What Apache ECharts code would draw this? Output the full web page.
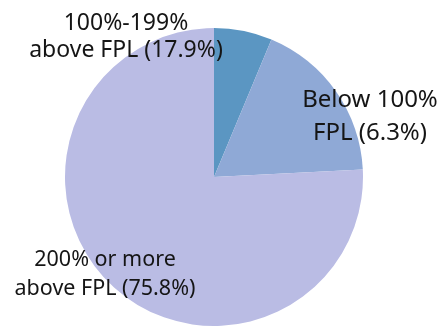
<!DOCTYPE html>
<html>
<head>
<meta charset="utf-8">
<script src="https://cdn.jsdelivr.net/npm/echarts@6/dist/echarts.min.js"></script>
<style>
  html, body { margin: 0; padding: 0; background: #ffffff; }
  #chart { width: 445px; height: 328px; }
</style>
</head>
<body>
<div id="chart"></div>
<script>
// Income groups relative to the Federal Poverty Level
const categories = ['Below 100%\nFPL', '100%-199%\nabove FPL', '200% or more\nabove FPL'];
const shares = [6.3, 17.9, 75.8];
const sliceColors = ['#5b96c2', '#8fa9d6', '#babce4'];

// Caption placement and type size for each group (px)
const captionSpots = [
  { x: 370, y: 117, size: 24, lead: 33 },
  { x: 126, y: 37, size: 23, lead: 27 },
  { x: 105, y: 274, size: 21.5, lead: 29 }
];

const chart = echarts.init(document.getElementById('chart'), null, { renderer: 'canvas' });

chart.setOption({
  animation: false,
  series: [{
    type: 'pie',
    center: [214, 177],
    radius: [0, 149],
    startAngle: 90,
    clockwise: true,
    data: categories.map((name, i) => ({
      name: name,
      value: shares[i],
      itemStyle: { color: sliceColors[i] },
      label: {
        fontSize: captionSpots[i].size,
        lineHeight: captionSpots[i].lead
      }
    })),
    label: {
      show: true,
      position: 'inside',
      formatter: p => p.name + ' (' + p.value.toFixed(1) + '%)',
      color: '#151515',
      fontFamily: 'Noto Sans',
      align: 'center'
    },
    labelLine: { show: false },
    labelLayout: p => ({
      x: captionSpots[p.dataIndex].x,
      y: captionSpots[p.dataIndex].y,
      align: 'center',
      verticalAlign: 'middle'
    }),
    emphasis: { disabled: true }
  }]
});
</script>
</body>
</html>
